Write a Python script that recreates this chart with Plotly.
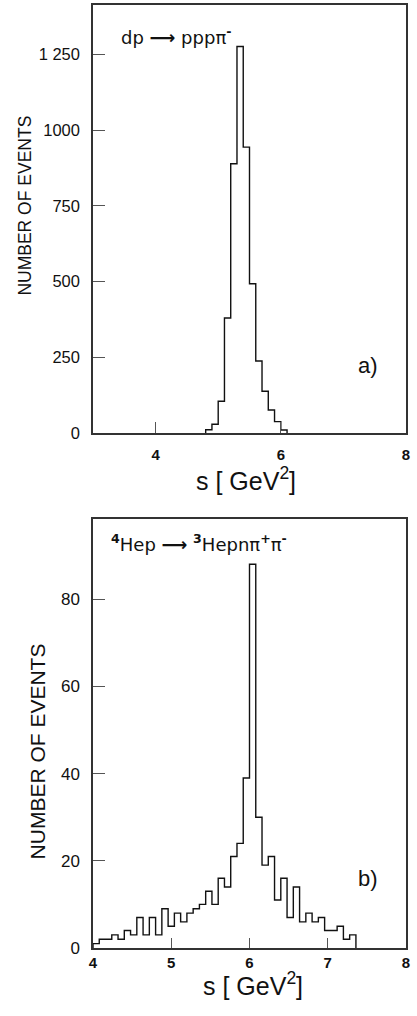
import plotly.graph_objects as go
from plotly.subplots import make_subplots

# ---- data ----
top_bin_start = 4.8
top_bin_width = 0.1
top_counts = [11, 29, 105, 380, 889, 1276, 944, 493, 238, 138, 76, 38, 10]

bot_bin_start = 4.0
bot_bin_width = 0.08
bot_counts = [1, 2, 2, 3, 2, 4, 3, 7, 3, 7, 3, 9, 5, 8, 6, 8, 9, 10, 13, 10, 16,
              14, 21, 24, 39, 88, 30, 19, 21, 11, 16, 7, 14, 6, 8, 6, 7, 4, 4, 5, 2, 3]

top_yticks = [0, 250, 500, 750, 1000, 1250]
top_yticktext = ["0", "250", "500", "750", "1000", "1 250"]
bot_yticks = [0, 20, 40, 60, 80]
top_xticks = [4, 6, 8]
bot_xticks = [4, 5, 6, 7, 8]

top_label = "dp <b>\u27f6</b> ppp\u03c0<sup><b>-</b></sup>"
bot_label = "<sup><b>4</b></sup>Hep <b>\u27f6</b> <sup><b>3</b></sup>Hepn\u03c0<sup><b>+</b></sup>\u03c0<sup><b>-</b></sup>"
ytitle = "NUMBER OF EVENTS"
xtitle = "s [ GeV<sup>2</sup>]"


def step_xy(start, width, counts):
    xs = [start] + [start + i * width for i in range(len(counts))] + [start + len(counts) * width]
    ys = [0] + list(counts) + [0]
    return xs, ys


W, H = 417, 1016
ML, MR, MT, MB = 93, 11, 3, 68
PW = W - ML - MR
PH = H - MT - MB


def px_x(p):
    return (p - ML) / PW


def px_y(p):
    return (H - MB - p) / PH


top_dom = [px_y(432), 1.0]
bot_dom = [0.0, px_y(518.5)]

fig = make_subplots(rows=2, cols=1)

tx, ty = step_xy(top_bin_start, top_bin_width, top_counts)
bx, by = step_xy(bot_bin_start, bot_bin_width, bot_counts)

fig.add_trace(go.Scatter(x=tx, y=ty, mode="lines", line_shape="hv",
                         line=dict(color="#111", width=1.4), showlegend=False), row=1, col=1)
fig.add_trace(go.Scatter(x=bx, y=by, mode="lines", line_shape="hv",
                         line=dict(color="#111", width=1.4), showlegend=False), row=2, col=1)

FONT = "Liberation Sans, Arial, sans-serif"
TFONT = "DejaVu Sans, sans-serif"
axis_common = dict(showline=True, mirror=True, linecolor="#333", linewidth=1.5,
                   ticks="inside", tickcolor="#555", tickwidth=1.3,
                   showgrid=False, zeroline=False)

fig.update_layout(
    xaxis=dict(axis_common, domain=[0, 1], range=[3, 8], tickvals=top_xticks, ticklen=11,
               tickfont=dict(family=FONT, size=15, color="#111", weight="bold"),
               ticklabelstandoff=7, anchor="y"),
    yaxis=dict(axis_common, domain=top_dom, range=[0, 1413], tickvals=top_yticks,
               ticktext=top_yticktext, ticklen=12,
               tickfont=dict(family=FONT, size=16.5, color="#111"),
               ticklabelstandoff=8, anchor="x"),
    xaxis2=dict(axis_common, domain=[0, 1], range=[4, 8], tickvals=bot_xticks, ticklen=10,
                tickfont=dict(family=FONT, size=15, color="#111", weight="bold"),
                ticklabelstandoff=0, anchor="y2"),
    yaxis2=dict(axis_common, domain=bot_dom, range=[0, 98.3], tickvals=bot_yticks, ticklen=12,
                tickfont=dict(family=FONT, size=17, color="#111"),
                ticklabelstandoff=8, anchor="x2"),
    width=W, height=H,
    margin=dict(l=ML, r=MR, t=MT, b=MB),
    paper_bgcolor="white", plot_bgcolor="white",
    font=dict(family=FONT, color="#111"),
)

ann = [
    dict(text=top_label, x=px_x(119), y=px_y(34), xanchor="left", yanchor="middle",
         font=dict(size=18, family=TFONT)),
    dict(text=bot_label, x=px_x(109), y=px_y(542), xanchor="left", yanchor="middle",
         font=dict(size=18, family=TFONT)),
    dict(text="a)", x=px_x(368), y=px_y(364), xanchor="center", yanchor="middle",
         font=dict(size=22)),
    dict(text="b)", x=px_x(368), y=px_y(878), xanchor="center", yanchor="middle",
         font=dict(size=22)),
    dict(text=xtitle, x=px_x(246), y=px_y(478), xanchor="center", yanchor="middle",
         font=dict(size=25)),
    dict(text=xtitle, x=px_x(253), y=px_y(984), xanchor="center", yanchor="middle",
         font=dict(size=25)),
    dict(text=ytitle, x=px_x(25), y=px_y(204), xanchor="center", yanchor="middle",
         textangle=-90, font=dict(size=17.5)),
    dict(text=ytitle, x=px_x(37), y=px_y(751), xanchor="center", yanchor="middle",
         textangle=-90, font=dict(size=21)),
]
for a in ann:
    a.update(xref="paper", yref="paper", showarrow=False)
fig.update_layout(annotations=ann)

fig.write_html("out.html")
